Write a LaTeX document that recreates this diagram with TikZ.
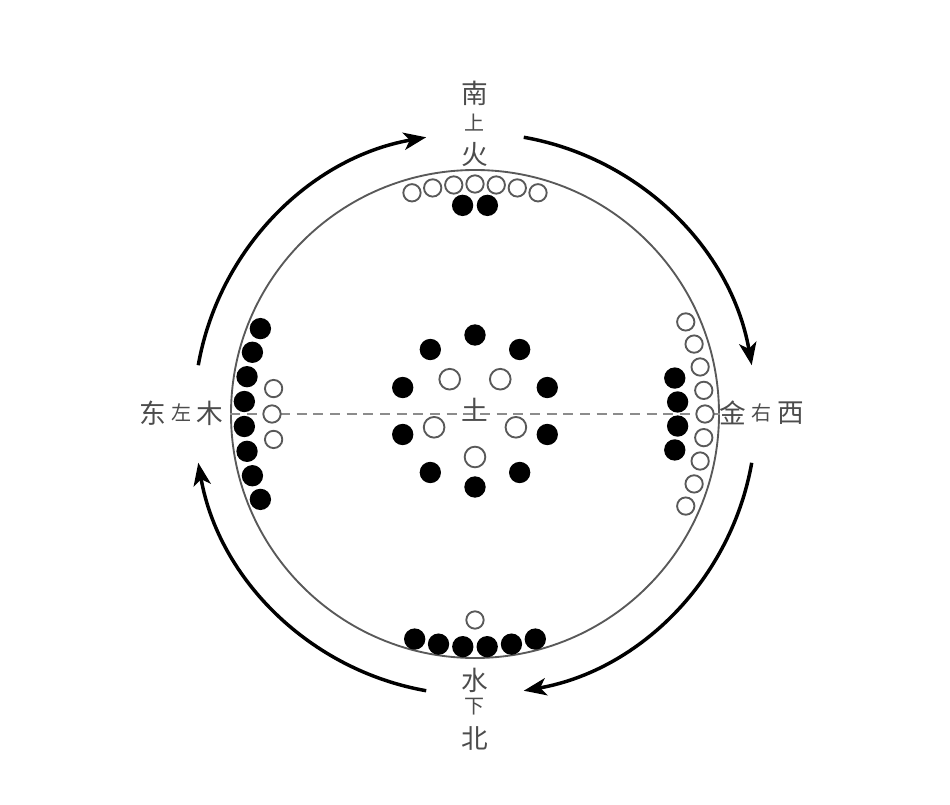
\documentclass[tikz,border=0pt]{standalone}
\usepackage{fontspec}
\newfontfamily\cjk{Noto Sans CJK SC}
\usepackage{tikz}
\usepackage{xcolor}
\usetikzlibrary{shapes, arrows.meta}

\begin{document}
\begin{tikzpicture}[x=0.75pt, y=0.75pt,
        bdot/.style={circle, fill=black, inner sep=0pt, minimum size=16pt},
        wdot/.style={circle, draw=black!65, line width=1.4pt, fill=white, inner sep=0pt, minimum size=13pt},
        wbig/.style={wdot, minimum size=15.5pt},
        bigch/.style={font=\cjk\fontsize{20}{20}\selectfont, text=black!70, inner sep=0pt},
        smallch/.style={font=\cjk\fontsize{15}{15}\selectfont, text=black!70, inner sep=0pt},
        flow/.style={line width=2.6pt, -{Stealth[length=17pt, width=13pt, inset=4.5pt]}}]
        \useasboundingbox (-475, -390) rectangle (475, 414);
        
        \node[circle, draw=black!65, line width=1.4pt, inner sep=0pt, minimum size=366pt] (ring) at (0, 0) {};
        \draw[black!45, line width=1.5pt, dash pattern=on 7.5pt off 5pt] (ring.west) -- (ring.east);
        
        % south, fire: 7 white, 2 black
        \foreach \a [count=\i] in {-15.9, -10.6, -5.3, 0, 5.3, 10.6, 15.9}
            \node[wdot] (s\i) at (90+\a:230) {};
        \node[bdot] (sb1) at (93.4:209) {};
        \node[bdot] (sb2) at (86.6:209) {};
        
        % north, water: 1 white, 6 black
        \node[wdot] (nw) at (0, -206) {};
        \foreach \a [count=\i] in {-15, -9, -3, 3, 9, 15}
            \node[bdot] (n\i) at (-90+\a:233) {};
        
        % east, wood: 3 white, 8 black
        \foreach \a [count=\i] in {-21.7, -15.5, -9.3, -3.1, 3.1, 9.3, 15.5, 21.7}
            \node[bdot] (e\i) at (180+\a:231) {};
        \foreach \a [count=\i] in {-7.2, 0, 7.2}
            \node[wdot] (ew\i) at (180+\a:203) {};
        
        % west, metal: 9 white, 4 black
        \foreach \a [count=\i] in {-23.6, -17.7, -11.8, -5.9, 0, 5.9, 11.8, 17.7, 23.6}
            \node[wdot] (w\i) at (\a:230) {};
        \foreach \a [count=\i] in {-10.2, -3.4, 3.4, 10.2}
            \node[bdot] (wb\i) at (\a:203) {};
        
        % centre, earth: 5 white, 10 black
        \foreach \i in {0,...,4}
            \node[wbig] (cw\i) at (-90+72*\i:43) {};
        \foreach \i in {0,...,9}
            \node[bdot, yshift=2.25pt] (cb\i) at (90+36*\i:76) {};
        
        \node[bigch] (tu) at (0, 4) {土};
        
        \node[bigch] (nan) at (0, 321) {南};
        \node[smallch] (shang) at (0, 291) {上};
        \node[bigch] (huo) at (0, 259) {火};
        
        \node[bigch] (shui) at (0, -266) {水};
        \node[smallch] (xia) at (0, -293) {下};
        \node[bigch] (bei) at (0, -324) {北};
        
        \node[bigch] (dong) at (-322, 1) {东};
        \node[smallch] (zuo) at (-293, 1) {左};
        \node[bigch] (mu) at (-265, 1) {木};
        
        \node[bigch] (jin) at (258, 1) {金};
        \node[smallch] (you) at (286, 1) {右};
        \node[bigch] (xi) at (316, 1) {西};
        
        \coordinate (a1) at (170:281);
        \coordinate (a2) at (80:281);
        \coordinate (a3) at (-10:281);
        \coordinate (a4) at (-100:281);
        \draw[flow] (a1) arc[start angle=170, end angle=100, radius=281];
        \draw[flow] (a2) arc[start angle=80, end angle=10, radius=281];
        \draw[flow] (a3) arc[start angle=-10, end angle=-80, radius=281];
        \draw[flow] (a4) arc[start angle=-100, end angle=-170, radius=281];
    \end{tikzpicture}
\end{document}
